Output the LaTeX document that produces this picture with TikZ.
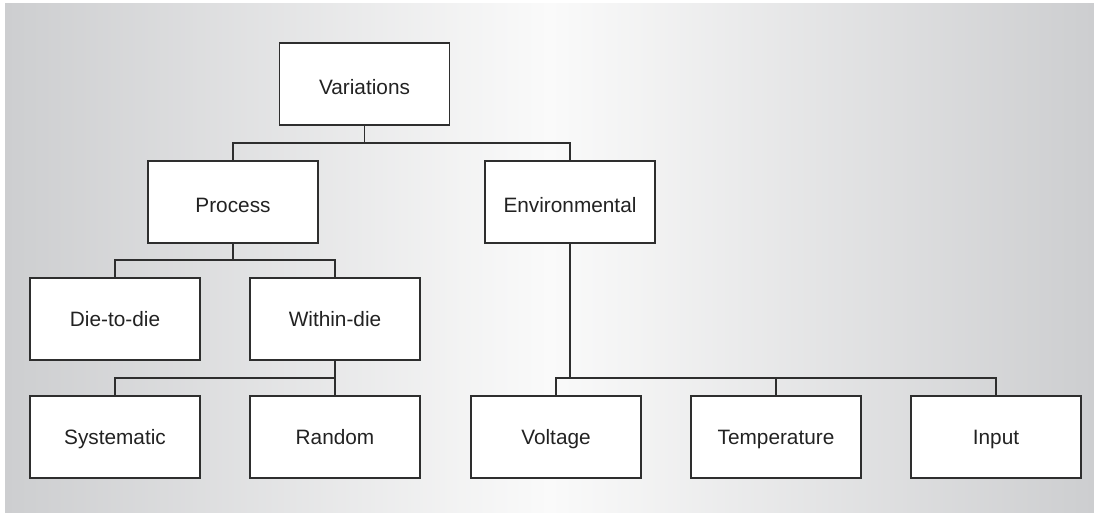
\documentclass[tikz,border=0pt]{standalone}
\usepackage{fontspec}
\setmainfont{Liberation Sans}
\definecolor{linecol}{HTML}{2E2E2E}
\definecolor{textcol}{HTML}{222222}
\definecolor{edgegray}{HTML}{CDCED0}
\definecolor{midwhite}{HTML}{FAFAFA}
% light in the middle, grey towards both sides (path spans 25bp..75bp)
\pgfdeclarehorizontalshading{backdrop}{100bp}{color(0bp)=(edgegray); color(25bp)=(edgegray); color(50bp)=(midwhite); color(75bp)=(edgegray); color(100bp)=(edgegray)}
\begin{document}
\begin{tikzpicture}[x=1pt,y=-1pt,
  box/.style={draw=linecol, fill=white, line width=1.2pt, minimum width=170pt,
    minimum height=82pt, inner sep=0pt, text height=17pt, text depth=2pt,
    font=\fontsize{20.8}{24}\selectfont, text=textcol},
  lowbox/.style={box, text height=23pt},
  link/.style={draw=linecol, line width=1.6pt}]
  \useasboundingbox (0,0) rectangle (1094,513);
  % shaded backdrop
  \shade[shading=backdrop] (5,4) rectangle (1094,513);

  % boxes
  \node[lowbox] (var)  at (364.5,84) {Variations};
  \node[lowbox] (proc) at (233,202)  {Process};
  \node[lowbox] (env)  at (570,202)  {Environmental};
  \node[box] (dtd)   at (115,319)  {Die-to-die};
  \node[box] (wid)   at (335,319)  {Within-die};
  \node[box] (sys)   at (115,437)  {Systematic};
  \node[box] (rnd)   at (335,437)  {Random};
  \node[box] (volt)  at (556,437)  {Voltage};
  \node[box] (temp)  at (776,437)  {Temperature};
  \node[box] (inp)   at (996,437)  {Input};

  % junction levels
  \coordinate (j1) at (0,143);
  \coordinate (j2) at (0,260);
  \coordinate (j3) at (0,378);

  % Variations -> Process / Environmental
  \draw[link] (var.south) -- (var.south |- j1);
  \draw[link] (proc.north) -- (proc.north |- j1) -- (env.north |- j1) -- (env.north);

  % Process -> Die-to-die / Within-die
  \draw[link] (proc.south) -- (proc.south |- j2);
  \draw[link] (dtd.north) -- (dtd.north |- j2) -- (wid.north |- j2) -- (wid.north);

  % Within-die -> Systematic / Random
  \draw[link] (wid.south) -- (wid.south |- j3) -- (sys.north |- j3) -- (sys.north);
  \draw[link] (rnd.north) -- (rnd.north |- j3);

  % Environmental -> Voltage / Temperature / Input
  \draw[link] (env.south) -- (env.south |- j3);
  \draw[link] (volt.north) -- (volt.north |- j3) -- (inp.north |- j3) -- (inp.north);
  \draw[link] (temp.north) -- (temp.north |- j3);
\end{tikzpicture}
\end{document}
